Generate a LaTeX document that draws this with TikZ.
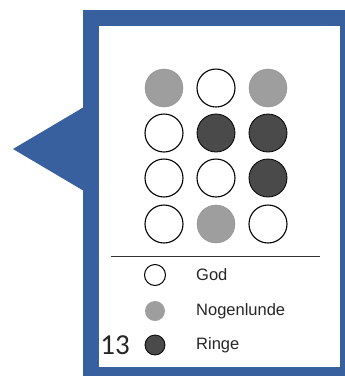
\documentclass[tikz,border=0pt]{standalone}
\usepackage{fontspec}
\setmainfont{Liberation Sans}
\newfontfamily\numfont{Carlito}
\definecolor{frameblue}{RGB}{56,96,158}
\definecolor{lgray}{RGB}{158,158,158}
\definecolor{dgray}{RGB}{74,74,74}
\begin{document}
\begin{tikzpicture}[x=1pt,y=-1pt,
  dot/.style={circle,draw=black,line width=1.1pt,minimum size=38pt,inner sep=0pt},
  good/.style={dot,fill=white},
  fair/.style={dot,fill=lgray,draw=lgray!90!black,line width=0.4pt},
  poor/.style={dot,fill=dgray,line width=0.8pt},
  ldot/.style={circle,inner sep=0pt,minimum size=21pt},
  ltext/.style={anchor=west,inner sep=0pt,font=\fontsize{16.5}{18}\selectfont,text=black!85}]
\useasboundingbox (0,0) rectangle (345,376);
% frame and pointer
\fill[frameblue] (83,10) rectangle (345,376);
\fill[frameblue] (13,149) -- (84,107) -- (84,191) -- cycle;
\fill[white] (99,26) rectangle (340,367);
% grid of circles
\node[fair] (a1) at (164,88) {};
\node[good] (a2) at (216,88) {};
\node[fair] (a3) at (268,88) {};
\node[good] (b1) at (164,133) {};
\node[poor] (b2) at (216,133) {};
\node[poor] (b3) at (268,133) {};
\node[good] (c1) at (164,178) {};
\node[good] (c2) at (216,178) {};
\node[poor] (c3) at (268,178) {};
\node[good] (d1) at (164,224) {};
\node[fair] (d2) at (216,224) {};
\node[good] (d3) at (268,224) {};
% separator
\coordinate (s1) at (111,256);
\coordinate (s2) at (320,256);
\draw[line width=0.7pt,black!80] (s1) -- (s2);
% legend
\node[ldot,draw=black,line width=1pt,fill=white] (lg) at (155,275) {};
\node[ldot,fill=lgray,minimum size=20pt] (lf) at (155,311) {};
\node[ldot,fill=dgray,draw=black,line width=0.8pt,minimum size=20pt] (lp) at (155,345) {};
\node[ltext] (tg) at (196,275) {God};
\node[ltext] (tf) at (196,311) {Nogenlunde};
\node[ltext] (tp) at (196,345) {Ringe};
\node[anchor=east,inner sep=0pt,font=\numfont\fontsize{29}{30}\selectfont,text=black!85] (num) at (130,345) {13};
\end{tikzpicture}
\end{document}
